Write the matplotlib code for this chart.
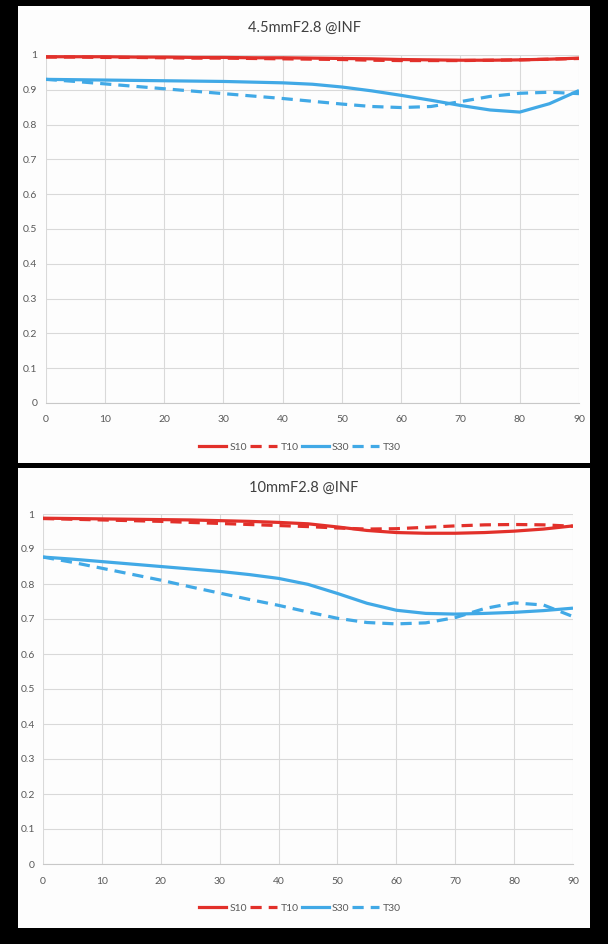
import matplotlib.pyplot as plt
from matplotlib.lines import Line2D
from matplotlib.ticker import FuncFormatter

plt.rcParams['font.family'] = ['Lato', 'DejaVu Sans']

FIELD = [0, 5, 10, 15, 20, 25, 30, 35, 40, 45, 50, 55, 60, 65, 70, 75, 80, 85, 90]

# 4.5mm F2.8 @INF
S10_A = [0.995, 0.995, 0.995, 0.994, 0.994, 0.993, 0.993, 0.992, 0.992, 0.991, 0.990, 0.989,
         0.987, 0.986, 0.985, 0.985, 0.986, 0.988, 0.991]
T10_A = [0.994, 0.994, 0.993, 0.993, 0.992, 0.991, 0.991, 0.990, 0.989, 0.988, 0.987, 0.985,
         0.984, 0.984, 0.984, 0.985, 0.986, 0.988, 0.990]
S30_A = [0.930, 0.929, 0.928, 0.927, 0.926, 0.925, 0.924, 0.922, 0.920, 0.916, 0.908, 0.897,
         0.884, 0.870, 0.855, 0.842, 0.836, 0.860, 0.898]
T30_A = [0.930, 0.924, 0.917, 0.910, 0.903, 0.896, 0.889, 0.882, 0.875, 0.867, 0.859, 0.852,
         0.849, 0.852, 0.866, 0.881, 0.890, 0.893, 0.889]

# 10mm F2.8 @INF
S10_B = [0.988, 0.987, 0.986, 0.985, 0.984, 0.983, 0.981, 0.979, 0.976, 0.972, 0.963, 0.953,
         0.947, 0.945, 0.945, 0.947, 0.951, 0.957, 0.966]
T10_B = [0.987, 0.985, 0.983, 0.981, 0.979, 0.976, 0.973, 0.970, 0.967, 0.964, 0.960, 0.957,
         0.958, 0.962, 0.966, 0.969, 0.970, 0.969, 0.965]
S30_B = [0.877, 0.871, 0.864, 0.857, 0.850, 0.843, 0.836, 0.827, 0.816, 0.799, 0.773, 0.745,
         0.725, 0.716, 0.714, 0.716, 0.719, 0.724, 0.731]
T30_B = [0.877, 0.862, 0.845, 0.828, 0.811, 0.792, 0.774, 0.756, 0.739, 0.720, 0.702, 0.690,
         0.686, 0.689, 0.704, 0.730, 0.746, 0.740, 0.707]

TITLES = ["4.5mmF2.8 @INF", "10mmF2.8 @INF"]
NAMES = ["S10", "T10", "S30", "T30"]
X_TICKS = list(range(0, 91, 10))
Y_TICKS = [i / 10 for i in range(11)]

RED = '#e2302a'
BLUE = '#41a9e6'
GRID = '#d9d9d9'
TXT = '#595959'
LW = 2.3
DASH = (3.5, 2.2)

W, H = 608, 944
fig = plt.figure(figsize=(W / 100, H / 100), dpi=100, facecolor='black')


def px_rect(x0, y0, x1, y1):
    return [x0 / W, 1 - y1 / H, (x1 - x0) / W, (y1 - y0) / H]


def draw_panel(panel, axes_box, title, title_y, legend_y, series):
    bg = fig.add_axes(px_rect(*panel), zorder=0)
    bg.set_facecolor('#fdfdfd')
    bg.set_xticks([])
    bg.set_yticks([])
    for s in bg.spines.values():
        s.set_visible(False)

    ax = fig.add_axes(px_rect(*axes_box), zorder=1)
    ax.set_facecolor('none')
    styles = [(RED, '-'), (RED, '--'), (BLUE, '-'), (BLUE, '--')]
    handles = []
    for (col, ls), vals, name in zip(styles, series, NAMES):
        line, = ax.plot(FIELD, vals, color=col, lw=LW, solid_capstyle='butt')
        if ls == '--':
            line.set_dashes(DASH)
        handles.append(Line2D([], [], color=col, lw=LW, dashes=DASH if ls == '--' else (None, None)))
    ax.set_xlim(0, 90)
    ax.set_ylim(0, 1)
    ax.set_xticks(X_TICKS)
    ax.set_yticks(Y_TICKS)
    ax.yaxis.set_major_formatter(FuncFormatter(lambda v, p: '%g' % round(v, 1)))
    ax.grid(True, color=GRID, lw=0.8)
    ax.set_axisbelow(True)
    for s in ['top', 'right', 'left']:
        ax.spines[s].set_visible(False)
    ax.spines['bottom'].set_color('#c8c8c8')
    ax.tick_params(length=0, labelsize=7.5, labelcolor=TXT, pad=6)
    ax.tick_params(axis='x', pad=9)

    bg.text(0.5, 1 - (title_y - panel[1]) / (panel[3] - panel[1]), title, ha='center', va='center',
            fontsize=10.5, color='#404040', transform=bg.transAxes)
    bg.legend(handles, NAMES, loc='center',
              bbox_to_anchor=(300 / W, 1 - legend_y / H), bbox_transform=fig.transFigure,
              ncol=4, frameon=False, fontsize=7.5, labelcolor=TXT, handlelength=2.6,
              handletextpad=0.3, columnspacing=0.3, borderpad=0)
    return ax


draw_panel((18, 6, 590, 463), (45.7, 55, 579, 403), TITLES[0], 28, 447,
           [S10_A, T10_A, S30_A, T30_A])
draw_panel((18, 468, 590, 928), (43, 514, 573, 864), TITLES[1], 488, 908,
           [S10_B, T10_B, S30_B, T30_B])

fig.savefig('out.png', dpi=100, facecolor='black')
